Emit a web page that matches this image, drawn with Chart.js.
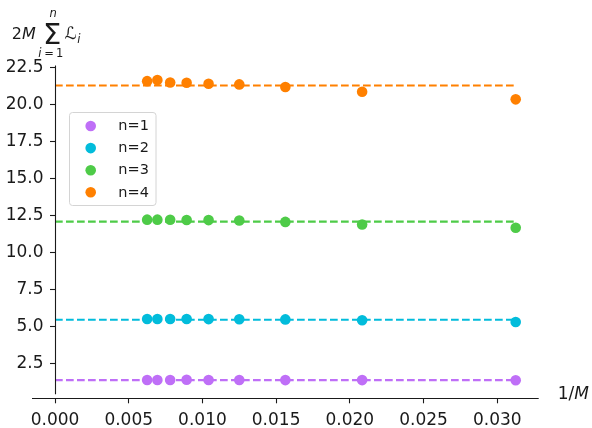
<!DOCTYPE html>
<html>
<head>
<meta charset="utf-8">
<script src="https://cdn.jsdelivr.net/npm/chart.js@4.4.1/dist/chart.umd.min.js"></script>
<style>
  html, body { margin: 0; padding: 0; background: #ffffff; }
  #wrap { width: 592px; height: 428px; }
</style>
</head>
<body>
<div id="wrap"><canvas id="chart" width="592" height="428"></canvas></div>
<script>
// 1/M for M = 160, 144, 128, 112, 96, 80, 64, 48, 32
const invM = [0.00625, 0.006944, 0.0078125, 0.008929, 0.010417, 0.0125, 0.015625, 0.020833, 0.03125];

const n1 = [1.38, 1.38, 1.38, 1.39, 1.38, 1.38, 1.37, 1.37, 1.36];
const n2 = [5.50, 5.50, 5.50, 5.50, 5.49, 5.48, 5.47, 5.41, 5.30];
const n3 = [12.21, 12.21, 12.20, 12.19, 12.18, 12.15, 12.06, 11.88, 11.66];
const n4 = [21.57, 21.64, 21.48, 21.46, 21.39, 21.35, 21.17, 20.85, 20.34];

// dashed fitted levels, drawn from 1/M = 0 to the largest 1/M
const fitLevels = [1.37, 5.45, 12.08, 21.28];
const fitRange = [0, 0.03125];

const seriesLabels = ["n=1", "n=2", "n=3", "n=4"];
const seriesColors = ["#bf6ff7", "#02bcdb", "#4ecb48", "#ff8000"];

const xTicks = [0, 0.005, 0.010, 0.015, 0.020, 0.025, 0.030];
const yTicks = [2.5, 5.0, 7.5, 10.0, 12.5, 15.0, 17.5, 20.0, 22.5];

// bottom spine runs a bit past 1/M = 0 on the left, left spine stops above it
const xSpineMin = -0.00156;
const ySpineMin = 0.41;

const textColor = "#1a1a1a";
const FONT = "'DejaVu Sans', sans-serif";

const seriesValues = [n1, n2, n3, n4];

const pointSets = seriesValues.map((vals, i) => ({
  type: "scatter",
  label: seriesLabels[i],
  data: vals.map((v, j) => ({ x: invM[j], y: v })),
  backgroundColor: seriesColors[i],
  borderWidth: 0,
  pointRadius: 5.3,
  order: 0
}));

const fitSets = fitLevels.map((lvl, i) => ({
  type: "line",
  label: "fit " + seriesLabels[i],
  data: fitRange.map(x => ({ x: x, y: lvl })),
  borderColor: seriesColors[i],
  borderWidth: 2.1,
  borderDash: [7.7, 3.3],
  pointRadius: 0,
  fill: false,
  order: 1
}));

// spines, legend box and the math axis labels
const decorations = {
  id: "decorations",
  afterDraw(chart) {
    const ctx = chart.ctx;
    const xs = chart.scales.x, ys = chart.scales.y;
    const area = chart.chartArea;
    ctx.save();

    ctx.strokeStyle = textColor;
    ctx.lineWidth = 1.1;
    // left spine
    const sx = Math.round(xs.getPixelForValue(0)) + 0.5;
    ctx.beginPath();
    ctx.moveTo(sx, area.top);
    ctx.lineTo(sx, ys.getPixelForValue(ySpineMin));
    ctx.stroke();
    // bottom spine
    const sy = Math.round(area.bottom) + 0.5;
    ctx.beginPath();
    ctx.moveTo(xs.getPixelForValue(xSpineMin), sy);
    ctx.lineTo(area.right, sy);
    ctx.stroke();

    // legend
    const lx = 69.5, ly = 112.5, lw = 86.5, lh = 93;
    ctx.beginPath();
    ctx.roundRect(lx, ly, lw, lh, 3);
    ctx.fillStyle = "rgba(255,255,255,0.8)";
    ctx.fill();
    ctx.strokeStyle = "#d4d4d4";
    ctx.lineWidth = 1;
    ctx.stroke();
    ctx.font = "14.5px " + FONT;
    ctx.textBaseline = "middle";
    ctx.textAlign = "left";
    pointSets.forEach((ds, i) => {
      const cy = 126 + i * 22.1;
      ctx.beginPath();
      ctx.arc(90.7, cy, 5.3, 0, Math.PI * 2);
      ctx.fillStyle = ds.backgroundColor;
      ctx.fill();
      ctx.fillStyle = textColor;
      ctx.fillText(ds.label, 118.3, cy + 0.5);
    });

    // x label: 1/M
    ctx.textBaseline = "alphabetic";
    ctx.fillStyle = textColor;
    ctx.font = "17px " + FONT;
    ctx.fillText("1/", 557.7, 399);
    const w1 = ctx.measureText("1/").width;
    ctx.font = "oblique 17px " + FONT;
    ctx.fillText("M", 557.7 + w1, 399);

    // y label: 2M sum_{i=1}^{n} L_i
    ctx.font = "16px " + FONT;
    ctx.fillText("2", 11.7, 39.3);
    const w2 = ctx.measureText("2").width;
    ctx.font = "oblique 16px " + FONT;
    ctx.fillText("M", 11.7 + w2, 39.3);
    ctx.font = "29px " + FONT;
    ctx.fillText("\u03A3", 43, 43.5);
    ctx.font = "oblique 11.5px " + FONT;
    ctx.fillText("n", 49.5, 16.7);
    ctx.fillText("i", 38.3, 57);
    ctx.font = "11.5px " + FONT;
    ctx.fillText("=", 44.2, 57);
    ctx.fillText("1", 56, 57);
    ctx.font = "17px " + FONT;
    ctx.fillText("\u2112", 64.5, 39.3);
    ctx.font = "oblique 11.5px " + FONT;
    ctx.fillText("i", 77.3, 42.5);

    ctx.restore();
  }
};

new Chart(document.getElementById("chart"), {
  type: "scatter",
  data: { datasets: pointSets.concat(fitSets) },
  options: {
    responsive: false,
    animation: false,
    events: [],
    layout: { padding: { left: 0, right: 53.3, top: 65.6, bottom: 0 } },
    plugins: {
      legend: { display: false },
      tooltip: { enabled: false }
    },
    scales: {
      x: {
        type: "linear",
        position: "bottom",
        min: 0,
        max: 0.03281,
        afterBuildTicks: (s) => { s.ticks = xTicks.map(v => ({ value: v })); },
        afterFit: (s) => { s.height = 29.7; },
        border: { display: false },
        grid: { drawOnChartArea: false, drawTicks: true, tickLength: 5, tickColor: textColor, tickWidth: 1.1 },
        ticks: {
          autoSkip: false,
          maxRotation: 0,
          padding: 7,
          color: textColor,
          font: { family: FONT, size: 17 },
          callback: (v) => Number(v).toFixed(3)
        }
      },
      y: {
        type: "linear",
        position: "left",
        min: 0.14,
        max: 22.62,
        afterBuildTicks: (s) => { s.ticks = yTicks.map(v => ({ value: v })); },
        afterFit: (s) => { s.width = 55; },
        border: { display: false },
        grid: { drawOnChartArea: false, drawTicks: true, tickLength: 5, tickColor: textColor, tickWidth: 1.1 },
        ticks: {
          padding: 6.5,
          color: textColor,
          font: { family: FONT, size: 17 },
          callback: (v) => Number(v).toFixed(1)
        }
      }
    }
  },
  plugins: [decorations]
});
</script>
</body>
</html>
